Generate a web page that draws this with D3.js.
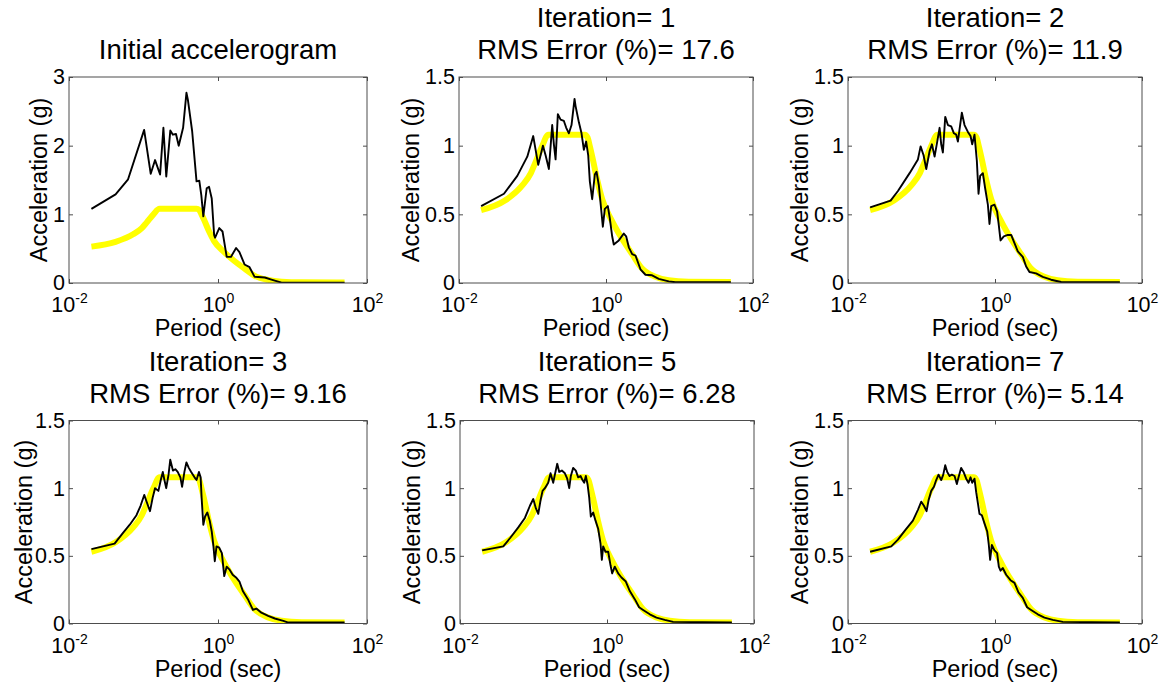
<!DOCTYPE html>
<html>
<head>
<meta charset="utf-8">
<script src="https://cdn.jsdelivr.net/npm/d3@7"></script>
<style>
body { margin: 0; background: #fff; }
text { font-family: "Liberation Sans", Arial, sans-serif; fill: #000; }
</style>
</head>
<body>
<div id="chart"></div>
<script>
// Target design spectrum (yellow), period in sec, acceleration in g
var targetSpectrum = [[0.02,0.53],[0.0422,0.60],[0.0726,0.71],[0.095,0.80],[0.110,0.88],[0.136,1.00],[0.164,1.08],
    [0.515,1.08],[0.56,1.06],[0.60,1.00],[0.65,0.92],[0.76,0.75],[0.887,0.61],[1.21,0.45],[1.66,0.32],
    [2.27,0.21],[3.10,0.105],[4.71,0.045],[7.14,0.02],[13.3,0.01],[50,0.008]];

// Response spectra of the accelerogram (black)
var spectrumInitial = [[0.02,1.08],[0.0422,1.29],[0.0621,1.51],[0.102,2.23],[0.125,1.59],[0.143,1.79],
    [0.167,1.58],[0.185,2.26],[0.202,1.55],[0.229,2.22],[0.248,2.16],[0.273,2.17],[0.297,2.00],[0.340,2.26],
    [0.377,2.77],[0.394,2.67],[0.450,2.21],[0.515,1.48],[0.561,1.49],[0.597,1.28],[0.635,0.97],[0.705,1.38],
    [0.759,1.40],[0.824,1.23],[0.887,0.70],[0.914,0.66],[1.04,0.80],[1.15,0.75],[1.31,0.38],[1.49,0.38],
    [1.75,0.51],[1.94,0.45],[2.27,0.27],[2.65,0.23],[3.10,0.09],[4.24,0.08],[5.22,0.05],[7.14,0.005],[50,0.005]];

var spectrumIter1 = [[0.02,0.56],[0.0409,0.65],[0.0621,0.78],[0.0849,0.92],[0.1023,1.07],[0.1197,0.86],
    [0.1386,1.00],[0.1507,0.93],[0.1671,0.83],[0.1854,1.15],[0.1954,1.01],[0.2061,0.90],[0.2213,1.23],
    [0.2410,1.19],[0.2673,1.18],[0.2877,1.13],[0.3126,1.09],[0.3396,1.15],[0.3733,1.34],[0.3850,1.29],
    [0.4276,1.17],[0.4645,1.09],[0.5000,0.97],[0.5370,1.03],[0.5728,0.93],[0.6026,0.74],[0.6486,0.61],
    [0.7047,0.79],[0.7430,0.81],[0.7998,0.71],[0.8511,0.56],[0.9057,0.41],[0.9638,0.54],[1.059,0.56],
    [1.127,0.47],[1.213,0.34],[1.276,0.28],[1.493,0.31],[1.746,0.36],[1.879,0.34],[2.043,0.26],[2.270,0.21],
    [2.518,0.20],[2.943,0.10],[3.443,0.06],[4.236,0.056],[5.224,0.03],[7.145,0.012],[8.80,0.005],[50,0.005]];

var spectrumIter2 = [[0.02,0.55],[0.038,0.60],[0.0478,0.67],[0.0689,0.80],[0.0894,0.90],[0.0972,0.995],
    [0.1067,0.93],[0.1161,0.83],[0.1288,0.96],[0.1386,1.01],[0.1507,0.92],[0.1637,1.03],[0.1762,1.13],
    [0.1854,1.01],[0.1954,0.95],[0.2104,1.21],[0.2286,1.15],[0.2535,1.14],[0.2761,1.09],[0.2965,1.08],
    [0.3126,1.03],[0.3296,1.12],[0.3540,1.24],[0.3850,1.15],[0.4276,1.10],[0.4645,1.07],[0.4898,1.01],
    [0.5260,1.08],[0.5662,0.89],[0.5970,0.65],[0.6281,0.78],[0.6839,0.80],[0.7345,0.69],[0.7998,0.57],
    [0.8414,0.43],[0.8872,0.56],[0.9840,0.57],[1.069,0.52],[1.127,0.42],[1.189,0.31],[1.318,0.34],
    [1.493,0.35],[1.660,0.35],[1.841,0.29],[2.043,0.23],[2.388,0.19],[2.654,0.12],[2.943,0.08],[3.622,0.07],
    [4.467,0.044],[5.794,0.024],[7.925,0.007],[50,0.005]];

var spectrumIter3 = [[0.02,0.55],[0.0409,0.59],[0.0531,0.67],[0.0654,0.73],[0.0805,0.80],[0.0913,0.87],
    [0.1023,0.95],[0.1101,0.90],[0.1222,0.83],[0.1328,0.93],[0.1429,1.00],[0.1585,0.98],[0.1706,1.06],
    [0.1816,1.12],[0.1893,1.07],[0.2018,1.00],[0.2168,1.10],[0.2286,1.21],[0.2483,1.13],[0.2673,1.14],
    [0.2877,1.12],[0.3126,1.08],[0.3296,1.01],[0.3540,1.12],[0.3767,1.19],[0.4055,1.15],[0.4365,1.12],
    [0.4842,1.08],[0.5152,1.06],[0.5546,1.12],[0.5848,1.08],[0.6026,0.93],[0.6353,0.73],[0.6699,0.79],
    [0.7194,0.82],[0.7745,0.76],[0.8241,0.68],[0.8690,0.57],[0.9057,0.46],[0.9550,0.57],[1.038,0.56],
    [1.127,0.52],[1.213,0.35],[1.306,0.42],[1.419,0.40],[1.574,0.36],[1.746,0.34],[1.941,0.31],[2.153,0.24],
    [2.518,0.18],[2.943,0.10],[3.266,0.11],[3.819,0.08],[4.710,0.056],[5.794,0.037],[7.534,0.02],
    [8.80,0.007],[50,0.007]];

var spectrumIter5 = [[0.02,0.54],[0.0388,0.57],[0.0478,0.63],[0.0621,0.71],[0.0764,0.78],[0.0894,0.87],
    [0.0993,0.92],[0.1079,0.85],[0.1161,0.81],[0.1247,0.91],[0.1328,0.98],[0.1429,1.00],[0.1585,1.04],
    [0.1706,1.11],[0.1854,1.04],[0.1954,1.10],[0.2104,1.18],[0.2239,1.12],[0.2432,1.13],[0.2673,1.11],
    [0.2877,1.07],[0.3062,1.00],[0.3221,1.09],[0.3467,1.15],[0.3767,1.13],[0.4055,1.08],[0.4365,1.09],
    [0.4645,1.06],[0.4898,1.04],[0.5152,1.09],[0.5433,1.03],[0.5728,0.93],[0.6026,0.79],[0.6486,0.82],
    [0.6982,0.76],[0.7586,0.70],[0.8166,0.59],[0.8511,0.47],[0.8872,0.57],[0.9550,0.53],[1.038,0.53],
    [1.117,0.43],[1.175,0.37],[1.276,0.42],[1.419,0.37],[1.574,0.34],[1.803,0.31],[2.043,0.24],[2.388,0.18],
    [2.735,0.12],[3.101,0.10],[3.819,0.068],[4.710,0.044],[6.109,0.027],[7.925,0.012],[50,0.007]];

var spectrumIter7 = [[0.02,0.53],[0.0388,0.57],[0.0478,0.62],[0.0601,0.69],[0.0764,0.76],[0.0894,0.84],
    [0.0993,0.90],[0.1079,0.87],[0.1172,0.83],[0.1247,0.91],[0.1357,0.98],[0.1476,1.01],[0.1585,1.06],
    [0.1706,1.10],[0.1854,1.06],[0.1977,1.10],[0.2104,1.17],[0.2239,1.12],[0.2410,1.09],[0.2588,1.10],
    [0.2818,1.09],[0.3027,1.03],[0.3192,1.08],[0.3467,1.15],[0.3733,1.12],[0.4055,1.07],[0.4365,1.04],
    [0.4645,1.08],[0.4898,1.04],[0.5260,1.07],[0.5546,0.97],[0.5848,0.89],[0.6152,0.81],[0.6622,0.80],
    [0.7194,0.74],[0.7834,0.68],[0.8241,0.58],[0.8590,0.47],[0.9057,0.58],[0.9840,0.54],[1.069,0.52],
    [1.127,0.42],[1.189,0.39],[1.276,0.41],[1.419,0.36],[1.625,0.32],[1.841,0.30],[2.085,0.23],[2.388,0.19],
    [2.735,0.12],[3.101,0.10],[3.819,0.068],[4.710,0.044],[6.109,0.027],[8.356,0.012],[50,0.007]];

var spectra = [spectrumInitial, spectrumIter1, spectrumIter2, spectrumIter3, spectrumIter5, spectrumIter7];
var iterations = [null, 1, 2, 3, 5, 7];
var rmsErrors = [null, 17.6, 11.9, 9.16, 6.28, 5.14];
var yMax = [3, 1.5, 1.5, 1.5, 1.5, 1.5];
var yTicksBig = [0, 1, 2, 3];
var yTicksSmall = [0, 0.5, 1, 1.5];
var xTicks = [0.01, 1, 100];

function init() {
    const W = 1161;
    const H = 684;

    // axes boxes [left, top, width, height]
    var boxes = [
        [69, 77, 298, 206], [459, 77, 294, 206], [848, 77, 294, 206],
        [69, 420.5, 298, 203], [460, 420.5, 294, 203], [848, 420.5, 294, 203]
    ];
    var boxColor = "#4d4d4d";

    var svg = d3.select("#chart")
        .append("svg")
        .attr("width", W)
        .attr("height", H);

    spectra.forEach((spec, i) => {
        var b = boxes[i];
        var w = b[2], h = b[3];

        var xScale = d3.scaleLog().domain([0.01, 100]).range([0, w]);
        var yScale = d3.scaleLinear().domain([0, yMax[i]]).range([h, 0]);

        var g = svg.append("g")
            .attr("transform", "translate(" + b[0] + "," + b[1] + ")");

        g.append("clipPath")
            .attr("id", "clip" + i)
            .append("rect")
            .attr("width", w)
            .attr("height", h);

        var line = d3.line()
            .x((d) => xScale(d[0]))
            .y((d) => yScale(d[1]));

        var plot = g.append("g").attr("clip-path", "url(#clip" + i + ")");

        plot.append("path")
            .datum(targetSpectrum)
            .attr("d", line.curve(d3.curveMonotoneX))
            .attr("fill", "none")
            .attr("stroke", "#ffff00")
            .attr("stroke-width", 6)
            .attr("stroke-linejoin", "round");

        plot.append("path")
            .datum(spec)
            .attr("d", line.curve(d3.curveLinear))
            .attr("fill", "none")
            .attr("stroke", "#000")
            .attr("stroke-width", 1.9)
            .attr("stroke-linejoin", "round");

        // axes, ticks pointing inside
        var yt = yMax[i] == 3 ? yTicksBig : yTicksSmall;

        var left = g.append("g")
            .call(d3.axisLeft(yScale).tickValues(yt).tickSize(-4).tickPadding(4).tickFormat(d3.format("")));
        g.append("g")
            .attr("transform", "translate(" + w + ",0)")
            .call(d3.axisRight(yScale).tickValues(yt).tickSize(-4).tickFormat(""));
        var bottom = g.append("g")
            .attr("transform", "translate(0," + h + ")")
            .call(d3.axisBottom(xScale).tickValues(xTicks).tickSize(-4).tickPadding(10).tickFormat(""));
        g.append("g")
            .call(d3.axisTop(xScale).tickValues(xTicks).tickSize(-4).tickFormat(""));

        g.selectAll(".domain").remove();
        g.selectAll(".tick line").attr("stroke", boxColor);

        left.selectAll("text")
            .attr("font-size", 21.5)
            .attr("font-family", null);

        // x tick labels as 10 with superscript exponent
        bottom.selectAll(".tick text")
            .attr("font-size", 21.5)
            .attr("font-family", null)
            .attr("dy", null)
            .attr("y", 29)
            .each(function(d) {
                var t = d3.select(this);
                t.append("tspan").text("10");
                t.append("tspan")
                    .attr("font-size", 14)
                    .attr("dy", -9)
                    .text(String(Math.round(Math.log10(d))));
            });

        g.append("rect")
            .attr("x", 0)
            .attr("y", 0)
            .attr("width", w)
            .attr("height", h)
            .attr("fill", "none")
            .attr("stroke", boxColor)
            .attr("stroke-width", 1);

        // labels
        g.append("text")
            .attr("x", w / 2)
            .attr("y", h + 53)
            .attr("text-anchor", "middle")
            .attr("font-size", 23.5)
            .text("Period (sec)");

        var labelOff = i == 0 ? 22 : (i == 3 ? 37 : 40);
        g.append("text")
            .attr("transform", "translate(" + (-labelOff) + "," + (h / 2) + ") rotate(-90)")
            .attr("text-anchor", "middle")
            .attr("font-size", 23.5)
            .text("Acceleration (g)");

        // title
        var lines = iterations[i] == null
            ? ["Initial accelerogram"]
            : ["Iteration= " + iterations[i], "RMS Error (%)= " + rmsErrors[i]];
        lines.forEach((s, k) => {
            g.append("text")
                .attr("x", w / 2)
                .attr("y", -18 - (lines.length - 1 - k) * 32)
                .attr("text-anchor", "middle")
                .attr("font-size", 27.5)
                .text(s);
        });
    });
}
window.onload = init;
</script>
</body>
</html>
